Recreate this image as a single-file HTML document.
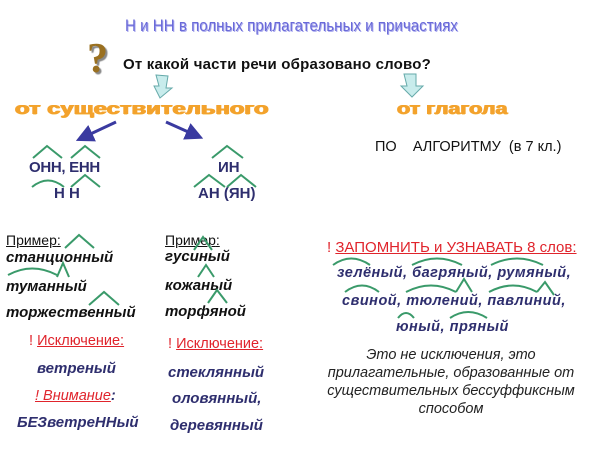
<!DOCTYPE html>
<html><head><meta charset="utf-8"><style>
body{margin:0;width:600px;height:450px;background:#fff;position:relative;overflow:hidden;font-family:"Liberation Sans",sans-serif}
.t{position:absolute;white-space:nowrap;line-height:1}
.b{font-weight:bold}
.i{font-style:italic}
.nv{color:#2e2e6e}
.red{color:#e0242c}
.u{text-decoration:underline}
.org{color:#f3a22c;font-weight:900;text-shadow:0.6px 0 0 #f3a22c,-0.6px 0 0 #f3a22c,0 0.6px 0 #f5b840;transform-origin:0 0}
</style></head><body>
<div class="t" style="left:125px;top:17px;font-size:17px;color:#6a6ad8;transform-origin:0 0;transform:scaleX(0.89);text-shadow:1px 1px 0 #b0b0f0">Н и НН в полных  прилагательных и причастиях</div>
<div class="t b" style="left:87px;top:38px;font-size:42px;color:#9a7020;font-family:'Liberation Serif',serif;text-shadow:2px 2px 1px #888">?</div>
<div class="t b" style="left:123px;top:57px;font-size:15px;color:#111;letter-spacing:0.2px">От какой части речи образовано слово?</div>
<div class="t org" style="left:15px;top:100px;font-size:17px;transform:scaleX(1.4)">от существительного</div>
<div class="t org" style="left:397px;top:100px;font-size:17px;transform:scaleX(1.27)">от глагола</div>
<div class="t" style="left:375px;top:140px;font-size:14.5px;color:#111">ПО&nbsp;&nbsp;&nbsp; АЛГОРИТМУ&nbsp; (в 7 кл.)</div>
<div class="t b nv" style="left:29px;top:160px;font-size:15px;letter-spacing:-0.3px">ОНН, ЕНН</div>
<div class="t b nv" style="left:54px;top:186px;font-size:15px">Н Н</div>
<div class="t b nv" style="left:218px;top:160px;font-size:15px">ИН</div>
<div class="t b nv" style="left:198px;top:186px;font-size:15px">АН (ЯН)</div>

<div class="t u" style="left:6px;top:233px;font-size:14px;color:#111">Пример<span style="text-decoration:none">:</span></div>
<div class="t b i" style="left:6px;top:250px;font-size:15px;color:#111">станционный</div>
<div class="t b i" style="left:6px;top:279px;font-size:15px;color:#111">туманный</div>
<div class="t b i" style="left:6px;top:305px;font-size:15px;color:#111">торжественный</div>
<div class="t u" style="left:165px;top:233px;font-size:14px;color:#111">Пример<span style="text-decoration:none">:</span></div>
<div class="t b i" style="left:165px;top:249px;font-size:15px;color:#111">гусиный</div>
<div class="t b i" style="left:165px;top:278px;font-size:15px;color:#111">кожаный</div>
<div class="t b i" style="left:165px;top:304px;font-size:15px;color:#111">торфяной</div>

<div class="t red" style="left:29px;top:334px;font-size:14.5px">! <span class="u">Исключение:</span></div>
<div class="t b i nv" style="left:37px;top:361px;font-size:15px">ветреный</div>
<div class="t i red" style="left:35px;top:389px;font-size:14.5px"><span class="u">! Внимание</span><span class="nv b">:</span></div>
<div class="t b i nv" style="left:17px;top:415px;font-size:15px">БЕЗветреННый</div>
<div class="t red" style="left:168px;top:337px;font-size:14.5px">! <span class="u">Исключение:</span></div>
<div class="t b i nv" style="left:168px;top:365px;font-size:15px">стеклянный</div>
<div class="t b i nv" style="left:172px;top:391px;font-size:15px">оловянный,</div>
<div class="t b i nv" style="left:170px;top:418px;font-size:15px">деревянный</div>

<div class="t red" style="left:327px;top:240px;font-size:15px">! <span class="u">ЗАПОМНИТЬ и УЗНАВАТЬ 8 слов:</span></div>
<div class="t b i nv" style="left:337px;top:266px;font-size:14.5px;letter-spacing:0.5px">зелёный, багряный, румяный,</div>
<div class="t b i nv" style="left:342px;top:294px;font-size:14.5px;letter-spacing:0.5px">свиной, тюлений, павлиний,</div>
<div class="t b i nv" style="left:396px;top:320px;font-size:14.5px;letter-spacing:0.5px">юный, пряный</div>
<div class="i" style="position:absolute;left:318px;top:346px;width:266px;text-align:center;font-size:14.5px;line-height:18px;color:#222">Это не исключения, это прилагательные, образованные от существительных бессуффиксным способом</div>

<svg width="600" height="450" style="position:absolute;left:0;top:0">
<defs><marker id="ah" markerWidth="6" markerHeight="6" refX="3" refY="3" orient="auto"><path d="M0,0 L6,3 L0,6 z" fill="#3a3aa0"/></marker></defs>
<path d="M156,75 L168,76 L166,88 L172,88 L160,98 L154,86 L159,86 z" fill="#c8ecec" stroke="#6aa" stroke-width="1"/>
<path d="M404,74 L416,74 L416,86 L423,86 L412,97 L401,86 L407,86 z" fill="#c8ecec" stroke="#6aa" stroke-width="1"/>
<line x1="116" y1="122" x2="84" y2="137" stroke="#3a3aa0" stroke-width="3" marker-end="url(#ah)"/>
<line x1="166" y1="122" x2="195" y2="135" stroke="#3a3aa0" stroke-width="3" marker-end="url(#ah)"/>
<g fill="none" stroke="#3a9a6a" stroke-width="2">
<polyline points="33,158 47,146 62,158"/><polyline points="71,158 85,146 100,158"/>
<path d="M32,187 Q48,174 64,187"/><polyline points="71,187 85,175 100,187"/>
<polyline points="212,158 227,146 243,158"/><polyline points="194,187 209,175 225,187"/><polyline points="227,187 241,175 256,187"/>
<polyline points="65,248 79,235 94,248"/>
<path d="M8,275 Q32,262 57,275"/><polyline points="57,277 63,263 69,277"/>
<polyline points="89,305 104,292 119,305"/>
<polyline points="194,250 203,237 212,250"/><polyline points="198,277 206,265 214,277"/><polyline points="208,303 217,290 227,303"/>
<path d="M333,265 Q351,252 370,265"/><path d="M412,265 Q437,252 462,265"/><path d="M491,265 Q517,252 543,265"/>
<path d="M345,292 Q362,279 379,292"/><path d="M406,292 Q431,279 456,292"/><path d="M489,292 Q513,279 537,292"/>
<polyline points="537,292 545,282 554,295"/><polyline points="456,292 464,279 472,292"/>
<path d="M398,318 Q406,308 414,318"/><path d="M450,318 Q468,306 487,318"/>
</g>
</svg>
</body></html>
